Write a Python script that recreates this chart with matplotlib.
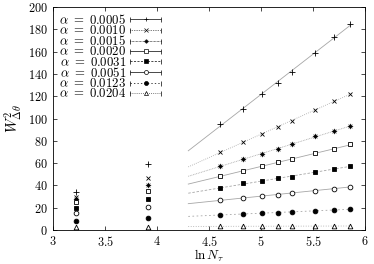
import numpy as np
import matplotlib
matplotlib.use("Agg")
import matplotlib.pyplot as plt
import matplotlib.ticker as mtick
from matplotlib.path import Path
from matplotlib.container import ErrorbarContainer
from matplotlib.legend_handler import HandlerErrorbar

plt.rcParams['font.family'] = 'serif'
plt.rcParams['font.serif'] = ['DejaVu Serif']
plt.rcParams['mathtext.fontset'] = 'cm'

# lattice sizes N_tau
n_tau = np.array([25, 50, 100, 125, 150, 175, 200, 250, 300, 350])
ln_n = np.log(n_tau)

alphas = ['0.0005', '0.0010', '0.0015', '0.0020', '0.0031', '0.0051', '0.0123', '0.0204']

w_0005 = [34, 59, 95, 109, 122, 132, 142, 159, 173, 185]
w_0010 = [30, 47, 70, 79, 86, 92, 98, 108, 116, 122]
w_0015 = [28, 40, 57, 64, 68, 73, 77, 84, 89, 93]
w_0020 = [25, 35, 48.4, 53, 57, 60.7, 63.7, 68.8, 72.6, 76.8]
w_0031 = [19.5, 28, 37.4, 41.9, 44, 46.3, 47.8, 51.7, 54.7, 57.4]
w_0051 = [15, 20.3, 26.6, 28.7, 30.5, 31.7, 33.2, 35.3, 37, 38.8]
w_0123 = [8.4, 10.5, 13.5, 14.3, 15, 15.5, 16.4, 17.3, 17.9, 18.5]
w_0204 = [3, 3, 3.2, 3.3, 3.3, 3.4, 3.4, 3.5, 3.5, 3.5]
series = [w_0005, w_0010, w_0015, w_0020, w_0031, w_0051, w_0123, w_0204]

# gnuplot style "*" point: plus and cross on top of each other
star = Path([(-1, 0), (1, 0), (0, -1), (0, 1),
             (-0.7, -0.7), (0.7, 0.7), (-0.7, 0.7), (0.7, -0.7)],
            [Path.MOVETO, Path.LINETO] * 4)

markers = ['+', 'x', star, 's', 's', 'o', 'o', '^']
sizes = [4, 3.4, 3.8, 3.2, 3.2, 3.4, 3.4, 3.4]
filled = [True, True, True, False, True, False, True, False]
fit_styles = ['-', (0, (1, 1.5)), (0, (1, 1)), '-', (0, (3, 2)), '-', (0, (2, 3)), (0, (1, 2))]

fig = plt.figure(figsize=(3.74, 2.64), dpi=100)
ax = fig.add_axes([0.142, 0.129, 0.834, 0.844])

fit_start = 4.3
for i, w in enumerate(series):
    w = np.array(w, dtype=float)
    mfc = 'k' if filled[i] else 'white'
    ax.plot(ln_n, w, ls='none', marker=markers[i], ms=sizes[i], mew=0.6,
            mec='k', mfc=mfc, color='k', zorder=3)
    # linear fit over the large-N points
    k, b = np.polyfit(ln_n[2:], w[2:], 1)
    xf = np.array([fit_start, ln_n[-1]])
    ax.plot(xf, k * xf + b, color='0.65', lw=0.6, ls=fit_styles[i], zorder=2)
    # legend proxy (gnuplot style errorbar key)
    eb = ax.errorbar([np.nan], [np.nan], xerr=[1.0], fmt='', marker=markers[i],
                     ls='none', ms=sizes[i] * 0.85, mew=0.5, mec='k', mfc=mfc,
                     color='k', ecolor='k', elinewidth=0.5, capsize=1.8,
                     label=r'$\alpha\ =\ %s$' % alphas[i])
    eb[2][0].set_linestyle(fit_styles[i])

handles, labels = ax.get_legend_handles_labels()
ax.legend(handles, labels, loc='upper left', frameon=False, fontsize=9.2,
          markerfirst=False, handlelength=2.5, labelspacing=-0.22,
          handletextpad=0.3, borderaxespad=0.15, borderpad=0.3, numpoints=1,
          handler_map={ErrorbarContainer: HandlerErrorbar(xerr_size=1.2)})

ax.set_xlim(3, 6)
ax.set_ylim(0, 200)
ax.set_xticks([3, 3.5, 4, 4.5, 5, 5.5, 6])
ax.set_yticks(np.arange(0, 201, 20))
ax.xaxis.set_major_formatter(mtick.FuncFormatter(lambda v, p: '$%g$' % v))
ax.yaxis.set_major_formatter(mtick.FuncFormatter(lambda v, p: '$%g$' % v))
ax.tick_params(direction='in', top=True, right=True, length=3, width=0.5,
               labelsize=8.8, pad=4)
for s in ax.spines.values():
    s.set_linewidth(0.6)
ax.set_xlabel(r'$\ln N_\tau$', fontsize=9.5, labelpad=-1.5)
ax.set_ylabel(r'$W^2_{\Delta\theta}$', fontsize=10.5, labelpad=3)

fig.savefig('out.png', dpi=100)
